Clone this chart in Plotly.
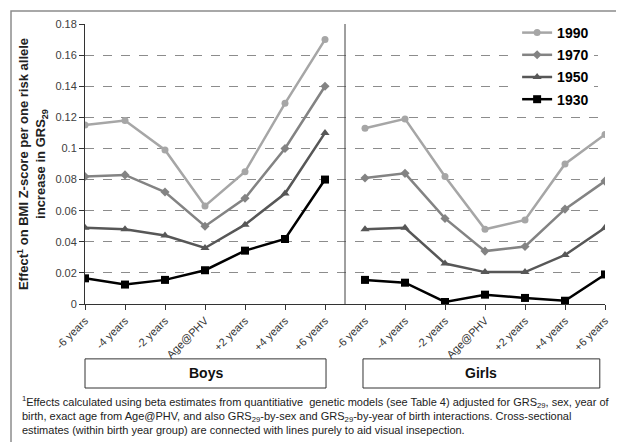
import plotly.graph_objects as go

categories = ["-6 years", "-4 years", "-2 years", "Age@PHV", "+2 years", "+4 years", "+6 years"]
groups = ["Boys", "Girls"]
series_names = ["1990", "1970", "1950", "1930"]

boys_1990 = [0.115, 0.118, 0.099, 0.063, 0.085, 0.129, 0.170]
boys_1970 = [0.082, 0.083, 0.072, 0.050, 0.068, 0.100, 0.140]
boys_1950 = [0.049, 0.048, 0.044, 0.036, 0.051, 0.071, 0.110]
boys_1930 = [0.0165, 0.0125, 0.0155, 0.0217, 0.0343, 0.0418, 0.080]

girls_1990 = [0.113, 0.119, 0.082, 0.048, 0.054, 0.090, 0.109]
girls_1970 = [0.081, 0.084, 0.055, 0.034, 0.037, 0.061, 0.079]
girls_1950 = [0.048, 0.049, 0.026, 0.0205, 0.0205, 0.0315, 0.049]
girls_1930 = [0.0155, 0.0137, 0.0013, 0.006, 0.0039, 0.0021, 0.019]

boys = {"1990": boys_1990, "1970": boys_1970, "1950": boys_1950, "1930": boys_1930}
girls = {"1990": girls_1990, "1970": girls_1970, "1950": girls_1950, "1930": girls_1930}

styles = {
    "1990": dict(color="#a6a6a6", symbol="circle", size=7),
    "1970": dict(color="#838383", symbol="diamond", size=7),
    "1950": dict(color="#575757", symbol="triangle-up", size=8),
    "1930": dict(color="#000000", symbol="square", size=8),
}

n = len(categories)
fig = go.Figure()
for name in series_names:
    st = styles[name]
    for gi, data in enumerate([boys, girls]):
        xs = [gi * n + i for i in range(n)]
        fig.add_trace(go.Scatter(
            x=xs, y=data[name], mode="lines+markers", name=name,
            legendgroup=name, showlegend=(gi == 0),
            line=dict(color=st["color"], width=2.5),
            marker=dict(color=st["color"], symbol=st["symbol"], size=st["size"]),
        ))

tickvals = list(range(2 * n))
ticktext = categories + categories

font_family = "Liberation Sans, Arial, sans-serif"

fig.update_layout(
    width=624, height=442, autosize=False,
    margin=dict(l=77, r=27, t=16, b=146, autoexpand=False),
    paper_bgcolor="white", plot_bgcolor="white",
    font=dict(family=font_family, color="#222222"),
    showlegend=True,
    legend=dict(
        x=0.831, y=1.025, xanchor="left", yanchor="top",
        bgcolor="white", borderwidth=0, tracegroupgap=1,
        font=dict(size=14, color="#000000", family=font_family, weight="bold"),
        itemwidth=30,
    ),
    xaxis=dict(
        range=[0, 2 * n - 1], tickmode="array", tickvals=tickvals, ticktext=ticktext,
        tickangle=-45, tickfont=dict(size=11, color="#333333"),
        showgrid=False, zeroline=False, showline=True, linecolor="#333333", linewidth=1,
        ticks="outside", ticklen=5, tickcolor="#333333", automargin=False,
    ),
    yaxis=dict(
        range=[0, 0.18], dtick=0.02, tickformat="~g",
        tickfont=dict(size=11, color="#404040"),
        showgrid=True, gridcolor="#8c8c8c", griddash="dash", gridwidth=1,
        zeroline=False, showline=True, linecolor="#333333", linewidth=1,
        ticks="outside", ticklen=5, tickcolor="#333333", automargin=False,
        title=dict(
            text="Effect<sup>1</sup> on BMI Z-score per one risk allele<br>increase in GRS<sub>29</sub>",
            font=dict(size=13, color="#222222", weight="bold"), standoff=6,
        ),
    ),
)

# divider between Boys and Girls
fig.add_shape(type="line", xref="x", yref="y", x0=n - 0.5, x1=n - 0.5, y0=0, y1=0.18,
              line=dict(color="#404040", width=1))

# group label boxes
box_y0, box_y1 = -0.196, -0.3
boxes = [(0.0, 0.4635), (0.5346, 0.990)]
for (bx0, bx1), g in zip(boxes, groups):
    fig.add_shape(type="rect", xref="paper", yref="paper", x0=bx0, x1=bx1, y0=box_y1, y1=box_y0,
                  line=dict(color="#333333", width=1), fillcolor="white", layer="above")
    fig.add_annotation(xref="paper", yref="paper", x=(bx0 + bx1) / 2, y=(box_y0 + box_y1) / 2,
                       text=f"<b>{g}</b>", showarrow=False, xanchor="center", yanchor="middle",
                       font=dict(size=14, color="#111111"))

# footnote
footnote = ("<sup>1</sup>Effects calculated using beta estimates from quantitiative  genetic models (see Table 4) adjusted for GRS<sub>29</sub>, sex, year of<br>"
            "birth, exact age from Age@PHV, and also GRS<sub>29</sub>-by-sex and GRS<sub>29</sub>-by-year of birth interactions. Cross-sectional<br>"
            "estimates (within birth year group) are connected with lines purely to aid visual insepection.")
fig.add_annotation(xref="paper", yref="paper", x=-0.125, y=-0.315, xanchor="left", yanchor="top",
                   text=footnote, showarrow=False, align="left",
                   font=dict(size=11, color="#222222"))

# outer frame
fig.add_shape(type="rect", xref="paper", yref="paper", x0=-0.1423, x1=1.046, y0=-0.5036, y1=1.046,
              line=dict(color="#8c8c8c", width=1.5), fillcolor="rgba(0,0,0,0)")

fig.write_html("out.html")
